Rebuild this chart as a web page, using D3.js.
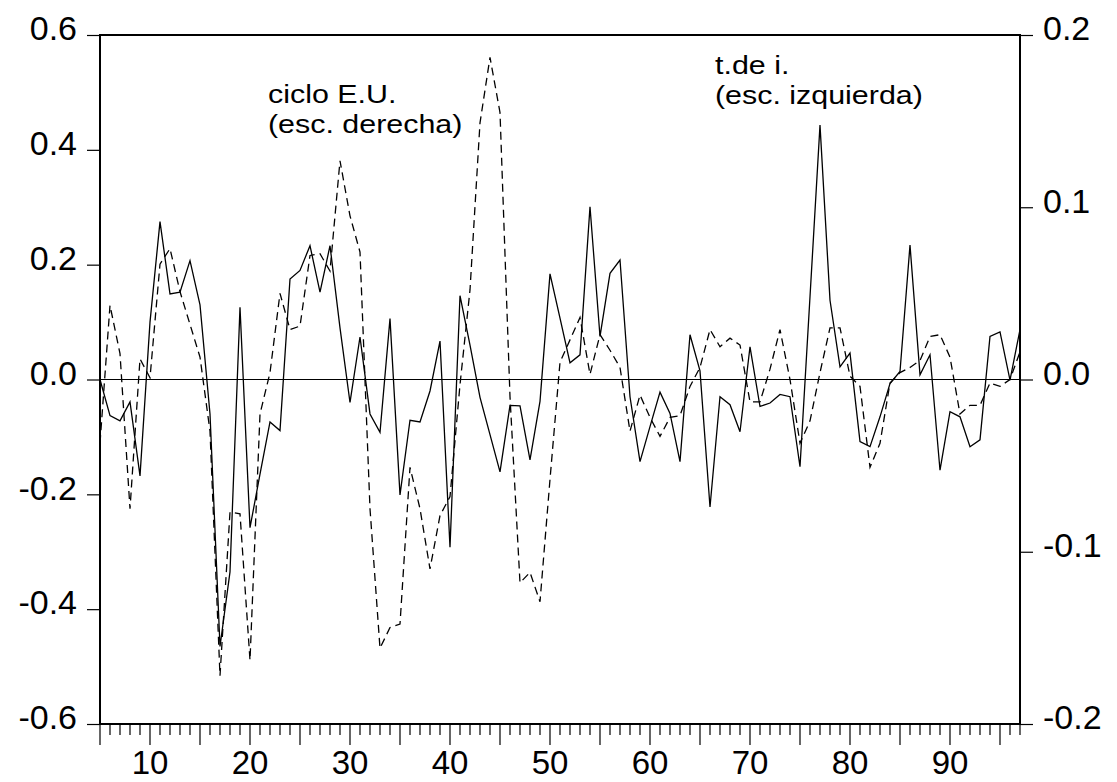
<!DOCTYPE html>
<html>
<head>
<meta charset="utf-8">
<script src="https://cdn.jsdelivr.net/npm/d3@7"></script>
<style>
  html, body { margin: 0; padding: 0; background: #fff; }
  svg { display: block; }
  text { font-family: "Liberation Sans", Arial, sans-serif; fill: #000; }
</style>
</head>
<body>
<svg id="chart" width="1117" height="782"></svg>
<script>
// Years covered by both series
const years = d3.range(5, 98);

// Interest rate (t.de i.), left scale
const tasaInteres = [
  0.000, -0.063, -0.072, -0.039, -0.168, 0.100, 0.275, 0.149, 0.152, 0.207,
  0.130, -0.060, -0.465, -0.335, 0.126, -0.258, -0.165, -0.074, -0.089, 0.175,
  0.190, 0.233, 0.152, 0.233, 0.090, -0.040, 0.074, -0.060, -0.092, 0.106,
  -0.201, -0.071, -0.074, -0.020, 0.067, -0.292, 0.146, 0.060, -0.031, -0.096,
  -0.161, -0.045, -0.046, -0.140, -0.038, 0.184, 0.107, 0.029, 0.043, 0.301,
  0.075, 0.185, 0.208, -0.030, -0.143, -0.082, -0.022, -0.059, -0.143, 0.078,
  0.015, -0.222, -0.030, -0.044, -0.091, 0.057, -0.047, -0.041, -0.026, -0.030,
  -0.152, 0.144, 0.443, 0.138, 0.022, 0.046, -0.108, -0.117, -0.065, -0.007,
  0.014, 0.234, 0.008, 0.043, -0.158, -0.056, -0.065, -0.117, -0.105, 0.075,
  0.083, -0.001, 0.087
];

// US business cycle (ciclo E.U.), right scale
const cicloEU = [
  -0.037, 0.043, 0.015, -0.075, 0.012, 0.001, 0.067, 0.076, 0.051, 0.032,
  0.013, -0.030, -0.172, -0.077, -0.078, -0.163, -0.020, 0.004, 0.050, 0.029,
  0.031, 0.072, 0.073, 0.063, 0.127, 0.095, 0.074, -0.075, -0.156, -0.144,
  -0.142, -0.051, -0.075, -0.110, -0.079, -0.068, -0.003, 0.052, 0.149, 0.187,
  0.155, -0.010, -0.118, -0.112, -0.129, -0.058, 0.010, 0.023, 0.036, 0.003,
  0.026, 0.017, 0.007, -0.030, -0.009, -0.022, -0.033, -0.022, -0.021, -0.004,
  0.007, 0.029, 0.019, 0.024, 0.020, -0.013, -0.013, 0.006, 0.029, 0.000,
  -0.037, -0.024, 0.004, 0.030, 0.030, 0.002, -0.004, -0.051, -0.037, -0.002,
  0.004, 0.007, 0.011, 0.025, 0.026, 0.013, -0.020, -0.015, -0.015, -0.002,
  -0.004, 0.000, 0.016
];

// Axis ticks
const leftTicks = [-0.6, -0.4, -0.2, 0.0, 0.2, 0.4, 0.6];
const rightTicks = [-0.2, -0.1, 0.0, 0.1, 0.2];
const xLabelTicks = [10, 20, 30, 40, 50, 60, 70, 80, 90];

const svg = d3.select("#chart");
const plot = { left: 100, right: 1020, top: 35, bottom: 724 };

const x = d3.scaleLinear().domain([5, 97]).range([plot.left, plot.right]);
const yL = d3.scaleLinear().domain([-0.6, 0.6]).range([plot.bottom, plot.top]);
const yR = d3.scaleLinear().domain([-0.2, 0.2]).range([plot.bottom, plot.top]);

// One decimal, plain hyphen for negatives
const fmt = d => d.toFixed(1).replace(/^-0\.0$/, "0.0");

// Zero reference line
svg.append("line")
  .attr("x1", plot.left).attr("x2", plot.right)
  .attr("y1", yL(0)).attr("y2", yL(0))
  .attr("stroke", "#000").attr("stroke-width", 1.2);

// Series lines
const lineL = d3.line().x((d, i) => x(years[i])).y(d => yL(d));
const lineR = d3.line().x((d, i) => x(years[i])).y(d => yR(d));

svg.append("path")
  .datum(cicloEU)
  .attr("d", lineR)
  .attr("fill", "none")
  .attr("stroke", "#000")
  .attr("stroke-width", 1.3)
  .attr("stroke-dasharray", "8,5");

svg.append("path")
  .datum(tasaInteres)
  .attr("d", lineL)
  .attr("fill", "none")
  .attr("stroke", "#000")
  .attr("stroke-width", 1.3);

// Frame
svg.append("rect")
  .attr("x", plot.left).attr("y", plot.top)
  .attr("width", plot.right - plot.left)
  .attr("height", plot.bottom - plot.top)
  .attr("fill", "none").attr("stroke", "#000").attr("stroke-width", 2);

// Left axis
const gL = svg.append("g").attr("transform", `translate(${plot.left},0)`)
  .call(d3.axisLeft(yL).tickValues(leftTicks).tickSize(13).tickPadding(10).tickFormat(fmt));
// Right axis
const gR = svg.append("g").attr("transform", `translate(${plot.right},0)`)
  .call(d3.axisRight(yR).tickValues(rightTicks).tickSize(13).tickPadding(10).tickFormat(fmt));

[gL, gR].forEach(g => {
  g.select(".domain").remove();
  g.selectAll(".tick line").attr("stroke", "#000").attr("stroke-width", 1.2);
  g.selectAll(".tick text")
    .attr("font-size", 34)
    .attr("font-family", "Liberation Sans, Arial, sans-serif")
    .attr("dy", "0.14em")
    .attr("fill", "#000");
});

// Bottom axis: minor ticks every year, longer every five
const gB = svg.append("g").attr("transform", `translate(0,${plot.bottom})`);
gB.selectAll("line.minor")
  .data(years)
  .join("line")
  .attr("x1", d => x(d)).attr("x2", d => x(d))
  .attr("y1", 0).attr("y2", d => d % 5 === 0 ? 21 : 11)
  .attr("stroke", "#000").attr("stroke-width", 1.2);
gB.selectAll("text")
  .data(xLabelTicks)
  .join("text")
  .attr("x", d => x(d))
  .attr("y", 50)
  .attr("text-anchor", "middle")
  .attr("font-size", 33)
  .text(d => d);

// Series annotations
const notes = [
  { x: 268, y: 103, t: "ciclo E.U." },
  { x: 268, y: 133, t: "(esc. derecha)" },
  { x: 715, y: 74, t: "t.de i." },
  { x: 715, y: 104, t: "(esc. izquierda)" }
];
svg.selectAll("text.note")
  .data(notes)
  .join("text")
  .attr("class", "note")
  .attr("transform", d => `translate(${d.x},${d.y}) scale(1.17,1)`)
  .attr("font-size", 26)
  .text(d => d.t);
</script>
</body>
</html>
